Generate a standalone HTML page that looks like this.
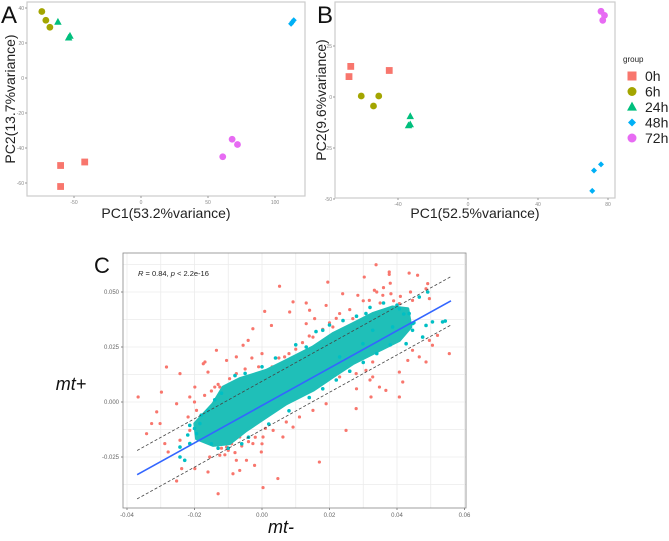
<!DOCTYPE html>
<html><head><meta charset="utf-8"><style>
body{margin:0;background:#fff}
svg{display:block;font-family:"Liberation Sans",sans-serif}
</style></head><body>
<svg id="fig" width="669" height="541" viewBox="0 0 669 541">
<g id="pa"></g>
<g id="pb"></g>
<g id="pc"></g>
</svg>
<script>
// ---------- Panel A data ----------
const groups = ["0h","6h","24h","48h","72h"];
const groupColors = ["#f8766d","#a3a500","#00bf7d","#00b0f6","#e76bf3"];
const aX0h=[-60,-60,-42], aY0h=[-50,-62,-48];
const aX6h=[-74,-71,-68], aY6h=[38,33,29];
const aX24h=[-62,-53,-54], aY24h=[32,24,23];
const aX48h=[112,113,114], aY48h=[31,32,33];
const aX72h=[61,68,72], aY72h=[-45,-35,-38];
const aXTicks=[-50,0,50,100], aYTicks=[40,20,0,-20,-40,-60];
// ---------- Panel B data ----------
const bX0h=[-67,-68,-45], bY0h=[15,10,13];
const bX6h=[-61,-54,-51], bY6h=[0.5,-4.4,0.5];
const bX24h=[-33,-34,-33], bY24h=[-9.5,-14,-13.5];
const bX48h=[71,72,76], bY48h=[-46,-36,-33];
const bX72h=[76,78,77], bY72h=[42,40,37.6];
const bXTicks=[-40,0,40,80], bYTicks=[25,0,-25,-50];
// ---------- Panel C data ----------
const cRedX=[0.0338,0.0377,0.0377,0.0436,0.0461,0.0303,0.0195,0.0239,0.0284,0.0318,0.0358,0.0382,0.0491,0.0486,0.0496,0.0446,0.0092,0.0131,0.0052,0.0008,-0.0027,-0.0041,-0.0076,-0.0105,0.0028,0.0082,0.0141,0.0156,0.0269,0.0299,0.0210,0.0520,0.0505,0.0555,0.0466,0.0432,0.0486,0.0407,0.0417,0.0407,0.0323,0.0279,0.0249,0.0170,0.0047,0.0003,-0.0130,-0.0086,-0.0160,-0.0199,-0.0253,-0.0238,-0.0278,-0.0312,-0.0327,-0.0367,-0.0298,-0.0253,-0.0214,-0.0283,-0.0243,-0.0174,-0.0160,-0.0096,-0.0140,-0.0219,-0.0194,-0.0105,-0.0066,-0.0027,-0.0002,-0.0046,0.0033,0.0062,0.0092,0.0111,0.0151,0.0190,-0.0135,-0.0169,-0.0199,0.0067,0.0101,0.0151,0.0210,0.0249,0.0308,0.0328,0.0348,0.0367,0.0446,0.0496,-0.0125,-0.0076,-0.0155,-0.0066,-0.0022,0.0072,0.0175,0.0230,0.0279,0.0328,0.0372,0.0407,0.0333,0.0190,0.0131,-0.0056,-0.0076,-0.0214,-0.0243,-0.0288,-0.0302,-0.0342,-0.0125,0.0003,-0.0100,0.0151,0.0230,
-0.012,-0.010,-0.008,-0.011,-0.009,-0.006,-0.004,-0.002,0.000,0.001,-0.015,-0.013,-0.017,-0.020,-0.008,-0.005,0.003,0.005,0.008,0.010,0.012,0.014,0.018,0.020,0.022,0.026,0.030,0.034,0.036,0.038,0.035,0.039,0.041,0.044,0.028,0.032,-0.003,0.000,0.002,-0.001];
const cRedY=[0.0624,0.0591,0.0580,0.0586,0.0576,0.0568,0.0545,0.0492,0.0485,0.0462,0.0485,0.0492,0.0538,0.0515,0.0470,0.0462,0.0455,0.0450,0.0526,0.0412,0.0333,0.0280,0.0205,0.0189,0.0348,0.0409,0.0417,0.0379,0.0379,0.0326,0.0341,0.0303,0.0258,0.0220,0.0205,0.0189,0.0182,0.0136,0.0091,0.0023,0.0023,-0.0030,-0.0129,-0.0273,-0.0348,-0.0389,-0.0417,-0.0326,-0.0318,-0.0303,-0.0359,-0.0303,-0.0227,-0.0045,-0.0098,0.0023,0.0045,-0.0008,0.0023,0.0159,0.0129,0.0174,0.0136,0.0106,0.0068,-0.0068,-0.0038,-0.0205,-0.0159,-0.0189,-0.0227,-0.0265,-0.0129,-0.0159,-0.0114,-0.0068,-0.0038,-0.0008,0.0235,0.0182,0.0068,0.0205,0.0174,0.0182,0.0250,0.0205,0.0144,0.0114,0.0068,0.0053,0.0235,0.0280,-0.0242,-0.0265,-0.0250,-0.0311,-0.0288,-0.0091,0.0083,0.0114,0.0129,0.0182,0.0386,0.0447,0.0508,0.0439,0.0356,0.0258,0.0129,-0.0129,-0.0174,-0.0189,-0.0098,-0.0144,0.0068,-0.0159,-0.0174,0.0295,0.0402,
-0.021,-0.022,-0.023,-0.024,-0.019,-0.020,-0.018,-0.016,-0.019,-0.012,0.005,0.008,0.003,0.000,0.012,0.015,0.016,0.020,0.022,0.024,0.027,0.030,0.033,0.036,0.038,0.042,0.046,0.050,0.052,0.054,0.045,0.046,0.048,0.050,0.006,0.010,0.020,0.022,0.012,0.016];
const cTealX=[0.0505,0.0535,0.0543,0.0486,0.0446,0.0476,0.0427,0.0466,0.0491,0.0407,0.0436,-0.0243,-0.0214,-0.0229,-0.0243,-0.0194,-0.0184,-0.0214,0.0328,0.0387,0.0308,0.0446,0.0299,0.0230,0.0180,0.0131,
-0.022,-0.020,-0.018,-0.016,-0.014,-0.012,-0.013,-0.015,-0.008,-0.005,0.000,0.004,0.010,0.016,0.020,0.024,0.028,0.032,0.036,0.040,0.042,0.045,0.038,0.034,0.030,0.026,0.022,0.018,0.014,0.008,0.002,-0.004,-0.010,-0.006];
const cTealY=[0.0364,0.0364,0.0368,0.0348,0.0326,0.0295,0.0265,0.0477,0.0500,0.0424,0.0402,-0.0205,-0.0189,-0.0265,-0.0250,-0.0144,-0.0098,-0.0106,0.0326,0.0341,0.0402,0.0356,0.0265,0.0205,0.0326,0.0250,
-0.015,-0.012,-0.006,-0.004,0.001,0.004,-0.021,-0.019,0.012,0.013,0.016,0.020,0.026,0.032,0.035,0.037,0.039,0.043,0.045,0.044,0.040,0.036,0.026,0.022,0.018,0.014,0.010,0.006,0.002,-0.004,-0.010,-0.016,-0.021,-0.019];
const cDenseX=[-0.0199,-0.0145,-0.0115,-0.0066,0.0013,0.0072,0.0151,0.0210,0.0269,0.0328,0.0387,0.0432,0.0441,0.0407,0.0348,0.0269,0.0210,0.0151,0.0072,0.0013,-0.0046,-0.0096,-0.0145,-0.0194];
const cDenseY=[-0.0098,-0.0008,0.0068,0.0106,0.0144,0.0189,0.0250,0.0311,0.0356,0.0402,0.0432,0.0424,0.0341,0.0280,0.0235,0.0174,0.0114,0.0053,-0.0008,-0.0068,-0.0129,-0.0189,-0.0197,-0.0167];
const cFitSlope=0.85, cFitIntercept=-0.0016, cBandOffset=0.011, cFitRange=[-0.037,0.056];
const cXTicks=[-0.04,-0.02,0.00,0.02,0.04,0.06], cXLabels=["-0.04","-0.02","0.00","0.02","0.04","0.06"];
const cYTicks=[0.05,0.025,0,-0.025], cYLabels=["0.050","0.025","0.000","-0.025"];

const NS="http://www.w3.org/2000/svg";
function mk(parent,tag,attrs,text){const e=document.createElementNS(NS,tag);for(const k in attrs)e.setAttribute(k,attrs[k]);if(text!==undefined)e.textContent=text;parent.appendChild(e);return e;}
function lin(d0,d1,r0,r1){return v=>r0+(v-d0)/(d1-d0)*(r1-r0);}

function marker(g,shape,x,y,color,s,name){
  let e;
  if(shape==="square") e=mk(g,"rect",{x:x-s,y:y-s,width:2*s,height:2*s,fill:color});
  else if(shape==="circle") e=mk(g,"circle",{cx:x,cy:y,r:s,fill:color});
  else if(shape==="triangle") e=mk(g,"polygon",{points:`${x},${y-s*1.2} ${x-s*1.1},${y+s*0.8} ${x+s*1.1},${y+s*0.8}`,fill:color});
  else e=mk(g,"polygon",{points:`${x},${y-s} ${x+s},${y} ${x},${y+s} ${x-s},${y}`,fill:color});
  
  
  return e;
}
const shapes=["square","circle","triangle","diamond","circle"];

function pcaPanel(g,box,sx,sy,xt,yt,series,xl,yl,letter,lx){
  const r=mk(g,"rect",{x:box[0],y:box[1],width:box[2]-box[0],height:box[3]-box[1],fill:"#fff",stroke:"#ccc","stroke-width":1.2});
   
  xt.forEach(v=>{const x=sx(v);mk(g,"line",{x1:x,x2:x,y1:box[3],y2:box[3]+2,stroke:"#999"});
    const t=mk(g,"text",{x:x,y:box[3]+8,"font-size":5,fill:"#888","text-anchor":"middle"},v);
     });
  yt.forEach(v=>{const y=sy(v);mk(g,"line",{x1:box[0]-2,x2:box[0],y1:y,y2:y,stroke:"#999"});
    const t=mk(g,"text",{x:box[0]-3,y:y+2,"font-size":5,fill:"#888","text-anchor":"end"},v);
     });
  series.forEach((s,i)=>{s[0].forEach((xv,j)=>marker(g,shapes[i],sx(xv),sy(s[1][j]),groupColors[i],shapes[i]==="diamond"?3:3.4,"point-"+groups[i]));});
  const xlab=mk(g,"text",{x:(box[0]+box[2])/2,y:218,"font-size":14,fill:"#222","text-anchor":"middle"},xl);
   
  const cy=(box[1]+box[3])/2;
  const ylab=mk(g,"text",{x:lx,y:cy,"font-size":14,fill:"#222","text-anchor":"middle",transform:`rotate(-90 ${lx} ${cy})`},yl);
   
  const L=mk(g,"text",{x:letter[0],y:letter[1],"font-size":24,fill:"#111"},letter[2]);
   
}

// Panel A
(function(){
  const g=document.getElementById("pa");
  const sx=lin(0,50,141,208), sy=lin(0,20,78,43);
  pcaPanel(g,[27,2,305,196],sx,sy,aXTicks,aYTicks,
    [[aX0h,aY0h],[aX6h,aY6h],[aX24h,aY24h],[aX48h,aY48h],[aX72h,aY72h]],
    "PC1(53.2%variance)","PC2(13.7%variance)",[1,23,"A"],15);
})();
// Panel B
(function(){
  const g=document.getElementById("pb");
  const sx=lin(0,40,468,538), sy=lin(0,25,97,46);
  pcaPanel(g,[335,2,615,198],sx,sy,bXTicks,bYTicks,
    [[bX0h,bY0h],[bX6h,bY6h],[bX24h,bY24h],[bX48h,bY48h],[bX72h,bY72h]],
    "PC1(52.5%variance)","PC2(9.6%variance)",[317,23,"B"],326);
  const lg=mk(g,"g",{});
   
  mk(lg,"text",{x:623,y:62,"font-size":8,fill:"#222"},"group");
  groups.forEach((gr,i)=>{const y=76+i*15.5;
    const e=mk(lg,"g",{});  
    marker(e,shapes[i],632,y,groupColors[i],shapes[i]==="diamond"?4:4.5,"legend-key-"+gr);
    mk(e,"text",{x:645,y:y+5,"font-size":14,fill:"#222"},gr);});
})();
// Panel C
(function(){
  const g=document.getElementById("pc");
  const box=[123,253,466,508];
  const sx=lin(0,0.02,262,329.5), sy=lin(0,0.025,402,347);
  const clip=mk(g,"clipPath",{id:"cc"}); mk(clip,"rect",{x:box[0],y:box[1],width:box[2]-box[0],height:box[3]-box[1]});
  const grid=mk(g,"g",{stroke:"#ebebeb","stroke-width":0.8});
   
  for(let v=-0.04;v<=0.061;v+=0.01){const x=sx(v);mk(grid,"line",{x1:x,x2:x,y1:box[1],y2:box[3]});}
  for(let v=-0.0375;v<=0.066;v+=0.0125){const y=sy(v);mk(grid,"line",{x1:box[0],x2:box[2],y1:y,y2:y});}
  const pg=mk(g,"g",{"clip-path":"url(#cc)"});
  cRedX.forEach((v,i)=>{const c=mk(pg,"circle",{cx:sx(v),cy:sy(cRedY[i]),r:1.6,fill:"#f8766d"});
     });
  const dense=mk(pg,"polygon",{points:cDenseX.map((v,i)=>sx(v)+","+sy(cDenseY[i])).join(" "),fill:"#1fbfb8",stroke:"#1fbfb8","stroke-width":3,"stroke-linejoin":"round"});
   
  cTealX.forEach((v,i)=>{const c=mk(pg,"circle",{cx:sx(v),cy:sy(cTealY[i]),r:1.8,fill:"#00bfc4"});
     });
  const f=x=>cFitSlope*x+cFitIntercept;
  [[cBandOffset,"upper-band"],[-cBandOffset,"lower-band"]].forEach(([o,n])=>{
    const l=mk(pg,"line",{x1:sx(cFitRange[0]),y1:sy(f(cFitRange[0])+o),x2:sx(cFitRange[1]),y2:sy(f(cFitRange[1])+o),stroke:"#444","stroke-width":0.8,"stroke-dasharray":"3,2"});
     });
  const fl=mk(pg,"line",{x1:sx(cFitRange[0]),y1:sy(f(cFitRange[0])),x2:sx(cFitRange[1]),y2:sy(f(cFitRange[1])),stroke:"#3366ff","stroke-width":1.6});
   
  const r=mk(g,"rect",{x:box[0],y:box[1],width:box[2]-box[0],height:box[3]-box[1],fill:"none",stroke:"#888","stroke-width":0.8});
   
  cXTicks.forEach((v,i)=>{const x=sx(v);mk(g,"line",{x1:x,x2:x,y1:box[3],y2:box[3]+2,stroke:"#888"});
    const t=mk(g,"text",{x:x,y:box[3]+9,"font-size":6,fill:"#666","text-anchor":"middle"},cXLabels[i]);
     });
  cYTicks.forEach((v,i)=>{const y=sy(v);mk(g,"line",{x1:box[0]-2,x2:box[0],y1:y,y2:y,stroke:"#888"});
    const t=mk(g,"text",{x:box[0]-4,y:y+2,"font-size":6,fill:"#666","text-anchor":"end"},cYLabels[i]);
     });
  const st=mk(g,"text",{x:138,y:276,"font-size":7.5,fill:"#222"});
   
  st.innerHTML='<tspan font-style="italic">R</tspan> = 0.84, <tspan font-style="italic">p</tspan> &lt; 2.2e-16';
  const L=mk(g,"text",{x:94,y:273,"font-size":22,fill:"#111"},"C");
   
  const yl=mk(g,"text",{x:71,y:390,"font-size":18,"font-style":"italic",fill:"#111","text-anchor":"middle"},"mt+");
   
  const xl=mk(g,"text",{x:281,y:533,"font-size":18,"font-style":"italic",fill:"#111","text-anchor":"middle"},"mt-");
   
})();
</script>
</body></html>
